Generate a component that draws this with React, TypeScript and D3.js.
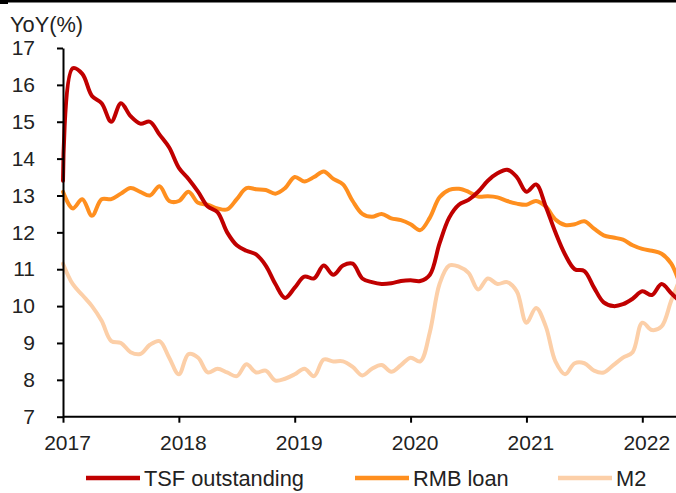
import { useEffect, useRef } from "react";
import * as d3 from "d3";

// monthly YoY (%), Jan 2017 onward
const startYear = 2017;
const yearTicks = [2017, 2018, 2019, 2020, 2021, 2022];
const valueTicks = [7, 8, 9, 10, 11, 12, 13, 14, 15, 16, 17];

const tsf = [
  13.4, 16.45, 16.3, 15.7, 15.5, 15.0, 15.5, 15.15, 14.95, 15.0, 14.65, 14.3,
  13.75, 13.45, 13.1, 12.7, 12.55, 12.0, 11.65, 11.5, 11.4, 11.1, 10.6, 10.22,
  10.5, 10.8, 10.75, 11.1, 10.85, 11.1, 11.15, 10.75, 10.65, 10.6, 10.62, 10.68,
  10.7, 10.68, 10.85, 11.7, 12.4, 12.75, 12.88, 13.1, 13.4, 13.6, 13.7, 13.5,
  13.1, 13.3, 12.7, 12.0, 11.4, 11.0, 10.95, 10.5, 10.1, 10.0, 10.05, 10.2,
  10.4, 10.3, 10.6, 10.35, 10.1,
];

const rmbLoan = [
  13.1, 12.65, 12.9, 12.45, 12.9, 12.9, 13.05, 13.2, 13.1, 13.0, 13.25, 12.85,
  12.85, 13.1, 12.8, 12.75, 12.65, 12.62, 12.9, 13.2, 13.17, 13.15, 13.05, 13.2,
  13.5, 13.38, 13.5, 13.65, 13.45, 13.3, 12.85, 12.5, 12.42, 12.5, 12.38, 12.33,
  12.22, 12.06, 12.4, 12.95, 13.15, 13.18, 13.1, 12.97, 12.98, 12.95, 12.85, 12.78,
  12.75, 12.85, 12.7, 12.35, 12.2, 12.22, 12.3, 12.1, 11.92, 11.86, 11.8, 11.65,
  11.55, 11.5, 11.42, 11.15, 10.5,
];

const m2 = [
  11.15, 10.6, 10.3, 10.0, 9.6, 9.05, 9.0, 8.75, 8.7, 8.95, 9.05, 8.6,
  8.15, 8.7, 8.6, 8.2, 8.3, 8.2, 8.1, 8.42, 8.2, 8.25, 7.98, 8.03,
  8.15, 8.3, 8.1, 8.55, 8.5, 8.5, 8.35, 8.12, 8.3, 8.4, 8.22, 8.4,
  8.6, 8.5, 9.3, 10.6, 11.1, 11.07, 10.9, 10.45, 10.75, 10.6, 10.65, 10.4,
  9.55, 9.95, 9.45, 8.5, 8.15, 8.45, 8.45, 8.25, 8.2, 8.4, 8.6, 8.75,
  9.55, 9.35, 9.45, 10.15, 10.8,
];

const series = [
  { name: "TSF outstanding", values: tsf, color: "#C00000" },
  { name: "RMB loan", values: rmbLoan, color: "#FF8F1F" },
  { name: "M2", values: m2, color: "#FCCFA8" },
];

export default function App() {
  const svgRef = useRef<SVGSVGElement | null>(null);

  useEffect(() => {
    const width = 676;
    const height = 493;
    const svg = d3.select(svgRef.current);
    svg.selectAll("*").remove();
    svg.attr("width", width).attr("height", height).attr("viewBox", `0 0 ${width} ${height}`);

    const font = "'Liberation Sans', Arial, sans-serif";
    const x = d3.scaleLinear().domain([2017, 2022]).range([63, 642.3]);
    const y = d3.scaleLinear().domain([7, 17]).range([416.7, 48]);

    svg.append("rect").attr("width", width).attr("height", height).attr("fill", "#fff");

    // top frame bar
    svg.append("rect").attr("x", 0).attr("y", 0).attr("width", width).attr("height", 2.5).attr("fill", "#000");
    svg.append("rect").attr("x", 0).attr("y", 0).attr("width", 8).attr("height", 4).attr("fill", "#000");

    const line = d3.line<number>()
      .x((_, i) => x(startYear + i / 12))
      .y((d) => y(d))
      .curve(d3.curveCatmullRom.alpha(0.5));

    // reversed so TSF is on top
    [...series].reverse().forEach((s) => {
      svg.append("path")
        .datum(s.values)
        .attr("fill", "none")
        .attr("stroke", s.color)
        .attr("stroke-width", 4)
        .attr("stroke-linejoin", "round")
        .attr("stroke-linecap", "round")
        .attr("d", line);
    });

    // y axis
    const yAxis = svg.append("g").attr("transform", "translate(63,0)")
      .call(d3.axisLeft(y).tickValues(valueTicks).tickSize(6).tickSizeOuter(0).tickPadding(22).tickFormat(d3.format("d")));
    yAxis.select(".domain").attr("stroke", "#000").attr("stroke-width", 2);
    yAxis.selectAll(".tick line").attr("stroke", "#000").attr("stroke-width", 2);
    yAxis.selectAll("text").attr("fill", "#222").style("font-family", font).style("font-size", "21px");

    // x axis
    const xAxis = svg.append("g").attr("transform", `translate(0,${y(7)})`)
      .call(d3.axisBottom(x).tickValues(yearTicks).tickSize(6).tickSizeOuter(0).tickPadding(12).tickFormat(d3.format("d")));
    xAxis.select(".domain").attr("stroke", "#000").attr("stroke-width", 2).attr("d", `M63,0H${width}`);
    xAxis.selectAll(".tick line").attr("stroke", "#000").attr("stroke-width", 2);
    xAxis.selectAll("text").attr("fill", "#222").attr("dx", 4).style("font-family", font).style("font-size", "21px");

    svg.append("text")
      .attr("x", 10)
      .attr("y", 31.5)
      .attr("fill", "#222")
      .style("font-family", font)
      .style("font-size", "21.8px")
      .text("YoY(%)");

    // legend
    const legendX = [86, 355, 558];
    series.forEach((s, i) => {
      const g = svg.append("g").attr("transform", `translate(${legendX[i]},478)`);
      g.append("line").attr("x1", 0).attr("x2", 54).attr("stroke", s.color).attr("stroke-width", 4.5);
      g.append("text")
        .attr("x", 58)
        .attr("y", 7.5)
        .attr("fill", "#222")
        .style("font-family", font)
        .style("font-size", "21.8px")
        .text(s.name);
    });
  }, []);

  return (
    <svg
      ref={svgRef}
      style={{ position: "absolute", left: 0, top: 0, display: "block" }}
    />
  );
}
